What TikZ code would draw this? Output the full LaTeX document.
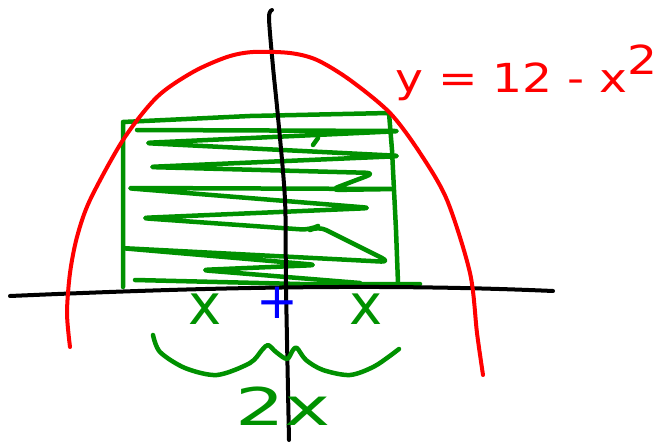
\documentclass[tikz,border=0pt]{standalone}
\usepackage{fontspec}
\newfontfamily\handfont{DejaVu Sans}
\usetikzlibrary{calc}
\definecolor{penRed}{RGB}{255, 0, 0}
\definecolor{penGreen}{RGB}{0, 145, 0}
\definecolor{penBlue}{RGB}{0, 0, 255}

\begin{document}
\begin{tikzpicture}[x=1pt, y=-1pt, line cap=round, line join=round,
  axis/.style={line width=4pt, black},
  curve/.style={line width=4pt, penRed},
  fillpen/.style={line width=4.5pt, penGreen},
  hand/.style={font=\handfont\fontsize{#1}{#1}\selectfont, inner sep=0pt}]
  \useasboundingbox (0,0) rectangle (662,444);

  % Rectangle scribbled in
  \draw[fillpen, rounded corners=9pt]
    (137,130) -- (402,131) -- (143,143) -- (402,156) -- (147,167) -- (375,173)
    -- (330,190) -- (397,189) -- (125,188) -- (372,208) -- (140,218) -- (310,230)
    -- (318,226) -- (390,262) -- (120,248) -- (318,265) -- (200,270) -- (360,283);
  \draw[fillpen] (318,138) -- (313,145);
  \draw[fillpen] (123,287) -- (123,122) -- (250,116) -- (389,113) -- (392,150)
    -- (396,230) -- (398,283);
  \draw[fillpen] (135,280) -- (300,284) -- (420,284);

  % Axes
  \draw[axis] (10,296) .. controls (150,290) and (350,282) .. (553,291);
  \draw[axis] plot[smooth] coordinates {(272,10) (269,18) (273,67) (278,117)
    (285,200) (286,287) (289,440)};

  % Parabola
  \draw[curve] plot[smooth] coordinates {(70,347) (67,313) (70,273) (77,237)
    (90,200) (123,140) (157,97) (193,72) (227,57) (253,52) (290,53) (317,60)
    (350,80) (390,113) (420,153) (447,200) (470,273) (477,333) (483,375)};
  \node[hand=40, penRed, anchor=base west, xscale=1.18] (eqn) at (395,93)
    {y = 12 - x\raisebox{0.45em}{2}};

  % Half widths
  \node[hand=56, penGreen] (halfL) at (205,309) {x};
  \node[hand=56, penGreen] (halfR) at (366,309) {x};
  \node[hand=50, penBlue] (origin) at (277,303) {+};

  % Brace and full width
  \draw[fillpen] plot[smooth] coordinates {(153,335) (160,352) (185,368)
    (217,375) (250,363) (262,350) (268,345) (276,352) (287,359) (293,350)
    (297,348) (306,360) (323,370) (350,375) (375,366) (399,349)};
  \node[hand=52, penGreen, xscale=1.5] (width) at (283,406) {2x};
\end{tikzpicture}
\end{document}
